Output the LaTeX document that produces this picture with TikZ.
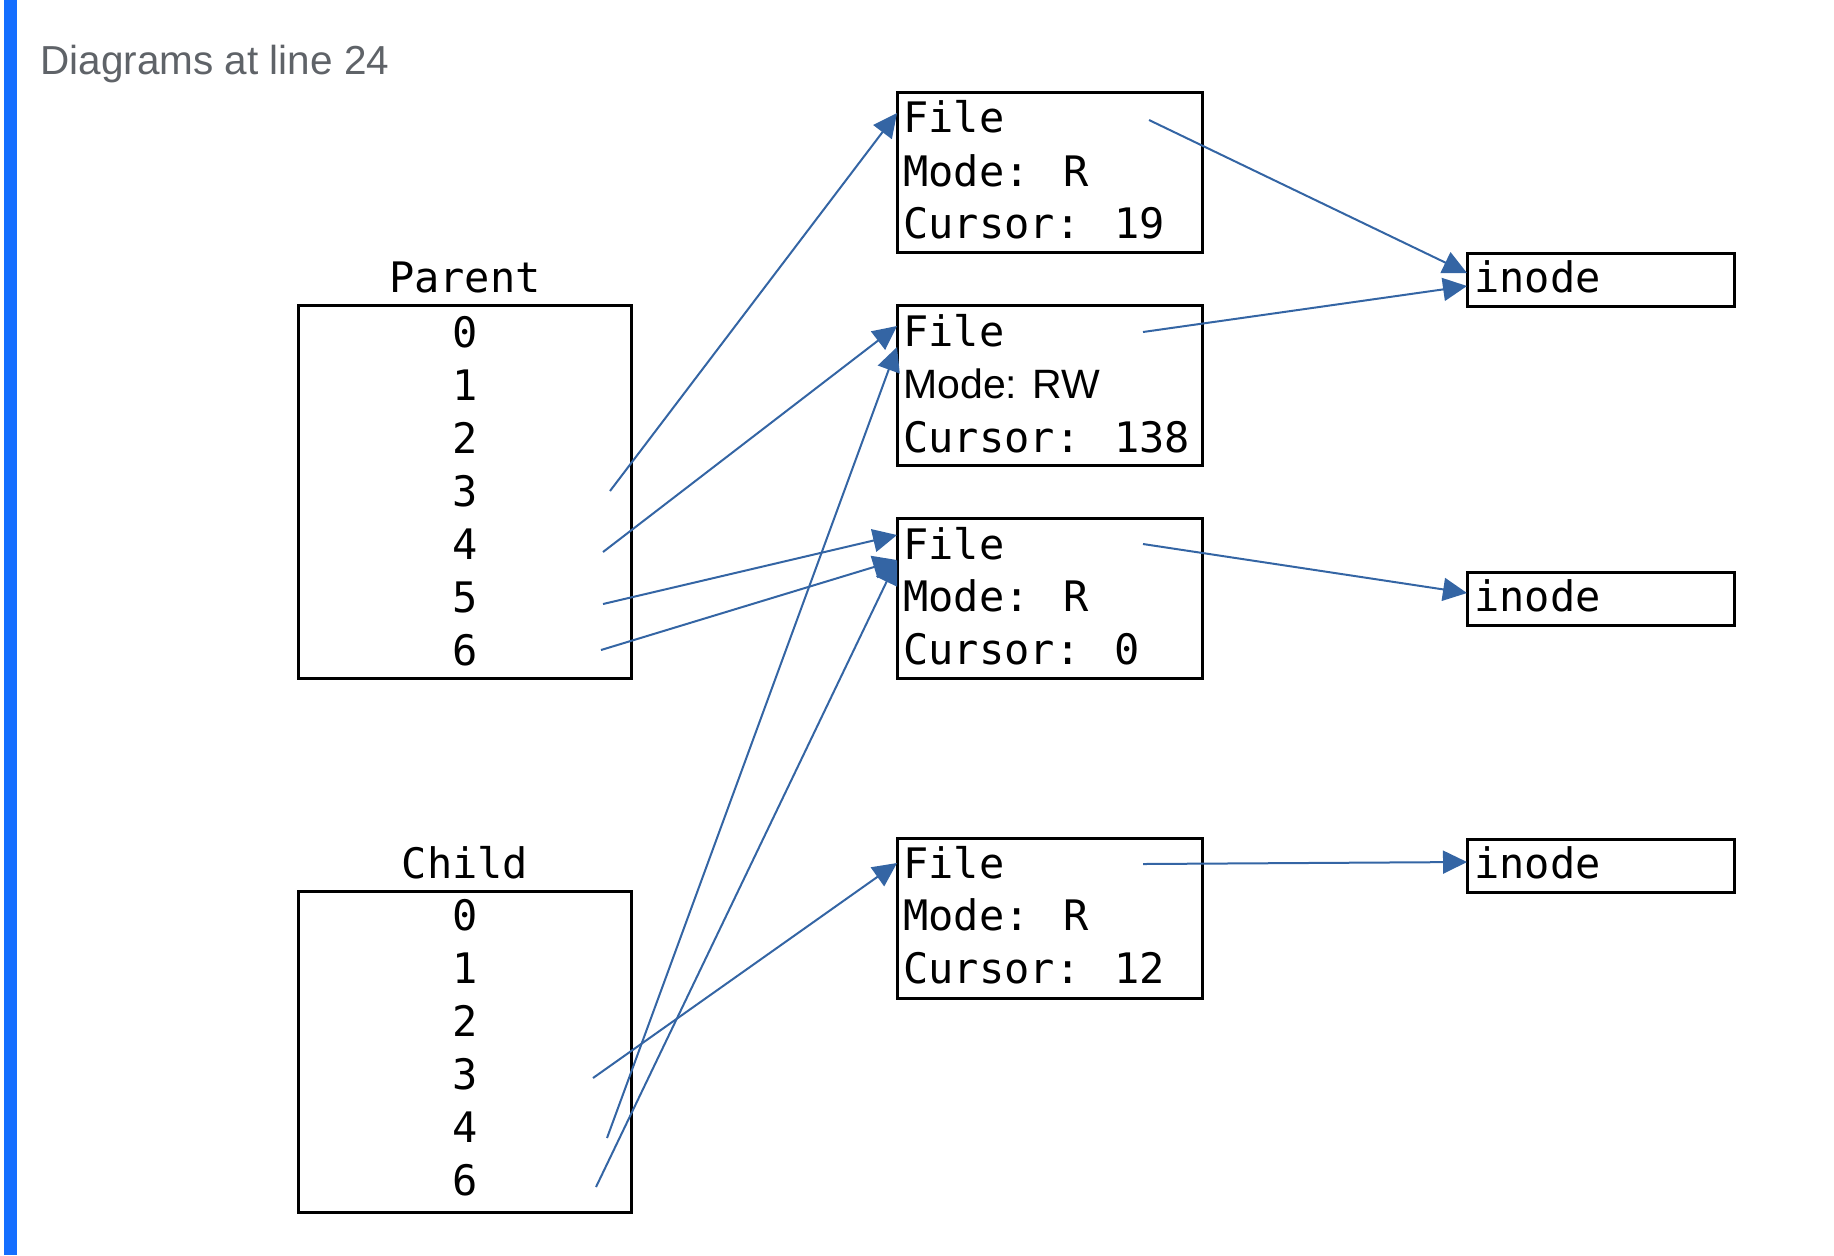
\documentclass[tikz,border=0pt]{standalone}
\usepackage{fontspec}
\setmainfont{Liberation Sans}
\newfontfamily\monof{DejaVu Sans Mono}
\usetikzlibrary{arrows.meta}
\definecolor{edgeblue}{RGB}{52,101,164}
\definecolor{titlegray}{RGB}{95,99,104}
\definecolor{barblue}{RGB}{20,110,255}
\begin{document}
\begin{tikzpicture}[x=0.5pt,y=-0.5pt,
  box/.style={draw=black,line width=1.5pt,inner sep=0pt,outer sep=0pt,anchor=north west},
  filebox/.style={box,minimum width=152.5pt,minimum height=80pt},
  inodebox/.style={box,minimum width=133.5pt,minimum height=26.5pt},
  mono/.style={font=\monof\fontsize{21}{24}\selectfont,inner sep=0pt},
  txt/.style={mono,anchor=base west},
  sanstxt/.style={font=\fontsize{20.5}{24}\selectfont,inner sep=0pt,anchor=base west},
  num/.style={mono,anchor=base},
  link/.style={draw=edgeblue,line width=1pt,-{Triangle[length=12pt,width=11.5pt]}}
]
\useasboundingbox (0,0) rectangle (1834,1255);
\fill[barblue] (4,0) rectangle (17,1255);
\node[anchor=base west,text=titlegray,font=\fontsize{20.25}{22}\selectfont,inner sep=0pt] (title) at (40,74) {Diagrams at line 24};

% Parent table
\node[num] (parentlbl) at (465,292) {Parent};
\node[box,minimum width=166.5pt,minimum height=186.5pt] (parent) at (298,305) {};
\node[num] (p0) at (465,347) {0};
\node[num] (p1) at (465,400) {1};
\node[num] (p2) at (465,453) {2};
\node[num] (p3) at (465,506) {3};
\node[num] (p4) at (465,559) {4};
\node[num] (p5) at (465,612) {5};
\node[num] (p6) at (465,665) {6};

% Child table
\node[num] (childlbl) at (465,878) {Child};
\node[box,minimum width=166.5pt,minimum height=160.5pt] (child) at (298,891) {};
\node[num] (c0) at (465,930) {0};
\node[num] (c1) at (465,983) {1};
\node[num] (c2) at (465,1036) {2};
\node[num] (c3) at (465,1089) {3};
\node[num] (c4) at (465,1142) {4};
\node[num] (c6) at (465,1195) {6};

% File boxes
\node[filebox] (f1) at (897,92) {};
\node[txt] (f1a) at (903,132) {File};
\node[txt] (f1b) at (903,186) {Mode: R};
\node[txt] (f1c) at (903,238) {Cursor: 19};

\node[filebox] (f2) at (897,305) {};
\node[txt] (f2a) at (903,346) {File};
\node[sanstxt] (f2b) at (903,398) {Mode: RW};
\node[txt] (f2c) at (903,452) {Cursor: 138};

\node[filebox] (f3) at (897,518) {};
\node[txt] (f3a) at (903,559) {File};
\node[txt] (f3b) at (903,611) {Mode: R};
\node[txt] (f3c) at (903,664) {Cursor: 0};

\node[filebox] (f4) at (897,838) {};
\node[txt] (f4a) at (903,878) {File};
\node[txt] (f4b) at (903,930) {Mode: R};
\node[txt] (f4c) at (903,983) {Cursor: 12};

% inode boxes
\node[inodebox] (i1) at (1467,253) {};
\node[txt] (i1t) at (1474,292) {inode};
\node[inodebox] (i2) at (1467,572) {};
\node[txt] (i2t) at (1474,611) {inode};
\node[inodebox] (i3) at (1467,839) {};
\node[txt] (i3t) at (1474,878) {inode};

% connector start points
\coordinate (p3s) at (610,491);
\coordinate (p4s) at (603,552);
\coordinate (p5s) at (603,604);
\coordinate (p6s) at (601,650);
\coordinate (c3s) at (593,1078);
\coordinate (c4s) at (607,1138);
\coordinate (c6s) at (596,1187);
\coordinate (f1s) at (1149,120);
\coordinate (f2s) at (1143,332);
\coordinate (f3s) at (1143,544);
\coordinate (f4s) at (1143,864);

% connectors
\draw[link] (p3s) -- ([yshift=-10.5pt]f1.north west);
\draw[link] (p4s) -- ([yshift=-10.5pt]f2.north west);
\draw[link] (p5s) -- ([yshift=-8.5pt]f3.north west);
\draw[link] (p6s) -- ([yshift=-21pt]f3.north west);
\draw[link] (c3s) -- ([yshift=-12.5pt]f4.north west);
\draw[link] (c4s) -- ([yshift=-21pt]f2.north west);
\draw[link] (c6s) -- ([yshift=-21pt]f3.north west);
\draw[link] (f1s) -- ([yshift=-10pt]i1.north west);
\draw[link] (f2s) -- ([yshift=-16.5pt]i1.north west);
\draw[link] (f3s) -- ([yshift=-10.5pt]i2.north west);
\draw[link] (f4s) -- ([yshift=-11.5pt]i3.north west);
\end{tikzpicture}
\end{document}
